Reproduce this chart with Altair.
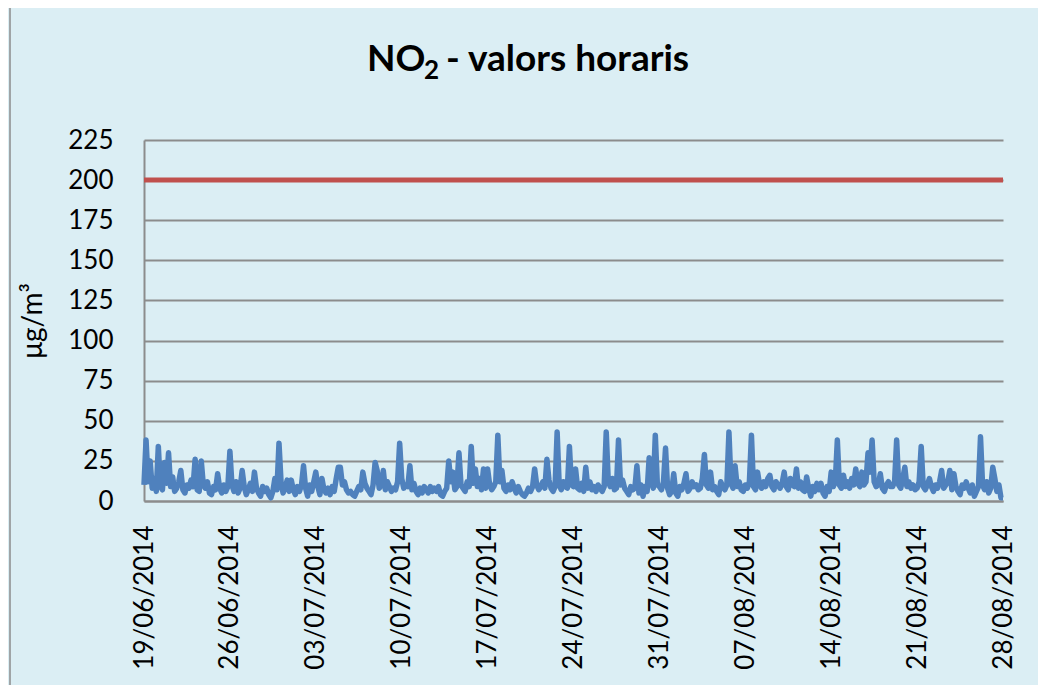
import altair as alt
import pandas as pd

week1 = [10, 38, 12, 25, 8, 14,  6, 34, 9, 7, 24, 11,  30, 9, 15, 6, 8, 12,
         19, 7, 5, 10, 8, 13,  9, 26, 7, 6, 25, 10,  8, 12, 5, 4, 9, 7,
         17, 8, 5, 10, 6, 9]
week2 = [31, 10, 6, 12, 5, 8,  19, 9, 4, 7, 11, 6,  18, 8, 5, 3, 9, 6,
         8, 4, 2, 6, 14, 7,  36, 12, 5, 8, 13, 6,  13, 7, 4, 9, 6, 10,
         22, 8, 3, 10, 6, 12]
week3 = [18, 9, 4, 14, 7, 5,  8, 4, 9, 6, 14, 21,  21, 10, 12, 7, 5, 6,
         4, 3, 6, 9, 7, 18,  11, 8, 6, 4, 10, 24,  19, 8, 10, 19, 7, 12,
         9, 6, 8, 7, 12, 36]
week4 = [14, 8, 10, 9, 22, 7,  11, 6, 4, 8, 5, 9,  7, 5, 9, 6, 8, 6,
         9, 4, 3, 6, 8, 25,  12, 18, 7, 9, 30, 10,  8, 6, 12, 9, 34, 11,
         20, 9, 14, 7, 20, 8]
week5 = [20, 10, 7, 9, 12, 41,  12, 19, 8, 6, 10, 7,  12, 8, 5, 9, 6, 4,
         3, 5, 8, 6, 9, 20,  10, 7, 9, 12, 8, 26,  13, 8, 6, 9, 43, 10,
         7, 12, 9, 8, 34, 10]
week6 = [9, 20, 8, 7, 11, 6,  21, 8, 12, 7, 9, 6,  10, 8, 6, 9, 43, 12,
         9, 14, 7, 8, 38, 10,  13, 8, 6, 4, 9, 7,  8, 22, 5, 10, 3, 9,
         6, 27, 12, 8, 41, 10]
week7 = [9, 7, 12, 33, 8, 4,  6, 17, 5, 3, 9, 7,  11, 17, 6, 8, 12, 9,
         10, 7, 8, 14, 29, 10,  8, 18, 7, 9, 6, 4,  12, 9, 7, 10, 43, 11,
         8, 22, 9, 12, 7, 6]
week8 = [10, 8, 12, 41, 9, 7,  18, 10, 8, 12, 9, 14,  16, 9, 7, 12, 10, 8,
         11, 18, 9, 7, 14, 10,  9, 20, 8, 12, 7, 6,  15, 8, 3, 9, 6, 11,
         7, 11, 5, 3, 9, 6]
week9 = [18, 9, 12, 38, 10, 8,  16, 9, 12, 8, 14, 10,  20, 11, 9, 18, 10, 12,
         30, 18, 38, 12, 9, 10,  17, 8, 6, 10, 12, 9,  9, 12, 38, 10, 8, 14,
         21, 9, 12, 8, 10, 7]
week10 = [8, 12, 34, 9, 7, 10,  14, 9, 6, 10, 8, 12,  19, 8, 10, 12, 19, 7,
          17, 9, 6, 4, 10, 8,  12, 8, 5, 10, 3, 6,  9, 40, 10, 7, 12, 5,
          8, 21, 14, 6, 10, 2,  2]

limit_value = 200
tick_dates = ["2014-06-19", "2014-06-26", "2014-07-03", "2014-07-10",
              "2014-07-17", "2014-07-24", "2014-07-31", "2014-08-07",
              "2014-08-14", "2014-08-21", "2014-08-28"]
y_ticks = [0, 25, 50, 75, 100, 125, 150, 175, 200, 225]
title_main = "NO"
title_sub = "2"
title_rest = "- valors horaris"
y_title = "\u03bcg/m\u00b3"

values = week1 + week2 + week3 + week4 + week5 + week6 + week7 + week8 + week9 + week10
df = pd.DataFrame({
    "time": pd.date_range("2014-06-19", periods=len(values), freq="4h"),
    "value": values,
})

FONT = "Lato"
W, H = 859, 361
PAD_L, PAD_T = 136, 132
OX, OY = 8 + PAD_L, 8 + PAD_T  # page position of plot origin

x_scale = alt.Scale(domain=[pd.Timestamp("2014-06-19").isoformat(),
                            pd.Timestamp("2014-08-28").isoformat()])
y_scale = alt.Scale(domain=[0, 225])

x_enc = alt.X(
    "time:T", scale=x_scale, title=None,
    axis=alt.Axis(
        values=[pd.Timestamp(d).isoformat() for d in tick_dates],
        format="%d/%m/%Y", labelAngle=-90, labelFontSize=26,
        labelFont=FONT, labelColor="#000000", labelPadding=24,
        ticks=False, grid=False, domainColor="#8c8c8c", domainWidth=2,
    ),
)
y_enc = alt.Y(
    "value:Q", scale=y_scale,
    axis=alt.Axis(
        values=y_ticks, title=y_title, titleFontSize=28, titleFont=FONT,
        titleFontWeight="normal", titleColor="#000000", titlePadding=20,
        labelFontSize=26, labelFont=FONT, labelColor="#000000",
        labelPadding=31, ticks=False, grid=True, gridColor="#8c8c8c",
        gridWidth=2, domainColor="#8c8c8c", domainWidth=2,
    ),
)

line = alt.Chart(df).mark_line(color="#4F81BD", strokeWidth=5.5,
                               strokeJoin="round").encode(x=x_enc, y=y_enc)

limit = alt.Chart(pd.DataFrame({"v": [limit_value]})).mark_rule(
    color="#C0504D", strokeWidth=5).encode(y=alt.Y("v:Q", scale=y_scale))

def title_piece(text, x, y, size):
    return alt.Chart(pd.DataFrame({"t": [text]})).mark_text(
        font=FONT, fontSize=size, fontWeight="bold", color="#000000",
        align="left", baseline="alphabetic",
    ).encode(text="t:N", x=alt.value(x - OX), y=alt.value(y - OY))

t1 = title_piece(title_main, 367, 71, 37)
t2 = title_piece(title_sub, 424, 79, 26)
t3 = title_piece(title_rest, 446, 71, 37)

border = alt.Chart(pd.DataFrame({"a": [0]})).mark_rect(
    fill=None, stroke="#8c8c8c", strokeWidth=1.5,
).encode(
    x=alt.value(10 - OX), x2=alt.value(1040 - OX),
    y=alt.value(2 - OY), y2=alt.value(689 - OY),
)

chart = alt.layer(line, limit, t1, t2, t3, border).properties(
    width=W, height=H,
    autosize=alt.AutoSizeParams(type="none"),
    padding={"left": PAD_L, "top": PAD_T, "right": 1030 - PAD_L - W,
             "bottom": 677 - PAD_T - H},
    background="#DBEEF4",
).configure_view(stroke=None)

chart.save("out.html", embed_options={"renderer": "svg", "actions": False})
